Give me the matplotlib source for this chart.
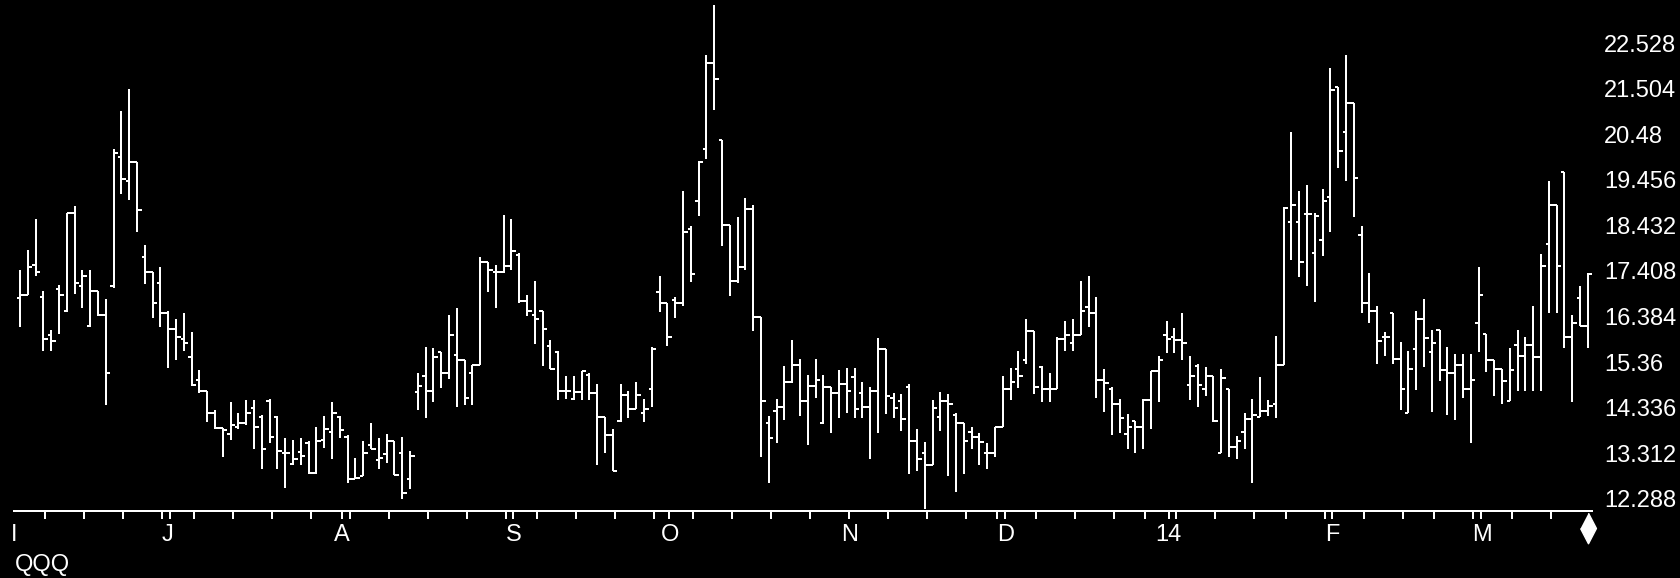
import matplotlib
matplotlib.use("Agg")
import matplotlib.pyplot as plt
import matplotlib.transforms as mtransforms
import numpy as np

plt.rcParams["font.family"] = ["Liberation Sans Narrow", "DejaVu Sans Condensed", "Liberation Sans"]

# daily OHLC bars
opens = [
    16.81, 16.86, 17.54, 16.82, 15.96, 17.00, 16.50, 18.71, 17.08, 16.17,
    16.96, 16.42, 17.08, 19.96, 19.42, 19.86, 17.73, 17.39, 17.13, 16.46,
    16.11, 15.87, 15.48, 14.96, 14.72, 14.23, 13.89, 13.75, 13.91, 14.00,
    14.33, 14.12, 14.48, 14.12, 13.31, 13.08, 13.35, 13.54, 12.87, 13.62,
    13.79, 14.12, 13.68, 12.73, 12.81, 13.51, 13.16, 13.29, 13.60, 13.31,
    12.73, 14.68, 15.06, 14.71, 15.60, 15.11, 15.52, 15.40, 15.11, 15.29,
    17.61, 17.39, 17.39, 17.53, 17.77, 16.73, 16.43, 16.50, 15.73, 15.58,
    14.71, 14.54, 14.68, 15.08, 14.66, 14.12, 13.73, 14.04, 14.62, 14.31,
    14.23, 14.75, 16.94, 16.69, 16.75, 16.68, 18.35, 18.98, 20.14, 22.09,
    20.36, 18.44, 17.18, 17.50, 18.79, 16.37, 14.00, 14.27, 14.36, 14.92,
    15.29, 14.48, 14.83, 14.00, 14.81, 14.66, 14.86, 15.02, 14.66, 14.36,
    14.71, 15.65, 14.56, 14.48, 14.81, 13.60, 13.33, 13.06, 14.12, 14.48,
    14.18, 14.00, 13.79, 13.68, 13.31, 13.31, 13.90, 14.75, 15.21, 15.40,
    16.07, 15.25, 14.75, 14.75, 15.89, 15.79, 15.97, 16.60, 16.47, 14.96,
    14.76, 14.41, 13.75, 14.04, 13.90, 14.50, 15.17, 15.97, 15.93, 15.85,
    14.85, 15.27, 14.76, 15.06, 13.31, 14.76, 13.46, 13.79, 14.08, 14.12,
    14.27, 14.43, 15.29, 18.50, 18.50, 18.69, 17.81, 18.11, 19.08, 21.53,
    20.54, 21.17, 18.21, 16.69, 16.50, 15.92, 16.46, 15.43, 14.23, 15.65,
    16.33, 15.60, 16.08, 15.19, 15.12, 15.29, 14.75, 16.23, 16.00, 15.42,
    15.21, 14.48, 15.75, 15.50, 15.75, 15.48, 18.02, 18.90, 19.63, 15.93,
    16.81, 16.17,
]
highs = [
    17.42, 17.88, 18.58, 16.96, 16.08, 17.10, 18.71, 18.86, 17.42, 17.42,
    16.96, 16.77, 20.15, 21.00, 21.49, 19.86, 18.00, 17.39, 17.50, 16.52,
    16.33, 16.47, 16.04, 15.18, 14.72, 14.29, 13.89, 14.46, 14.23, 14.50,
    14.50, 14.18, 14.54, 14.15, 13.66, 13.62, 13.66, 13.60, 13.91, 14.15,
    14.46, 14.15, 13.73, 13.21, 13.60, 14.00, 13.65, 13.75, 13.60, 13.68,
    13.37, 15.12, 15.71, 15.67, 15.60, 16.43, 16.57, 15.40, 15.29, 17.73,
    17.61, 17.54, 18.67, 18.58, 17.82, 16.87, 17.19, 16.52, 15.85, 15.61,
    15.04, 15.04, 15.17, 15.12, 14.87, 14.12, 13.87, 14.87, 14.72, 14.92,
    14.54, 15.71, 17.29, 16.69, 16.83, 19.21, 18.42, 19.88, 22.25, 23.38,
    20.36, 18.44, 18.61, 19.04, 18.90, 16.37, 14.15, 14.54, 15.27, 15.85,
    15.44, 15.08, 15.44, 15.08, 14.81, 15.18, 15.22, 15.22, 14.92, 14.81,
    15.90, 15.65, 14.66, 14.65, 14.87, 13.86, 13.56, 14.50, 14.68, 14.65,
    14.21, 14.00, 13.91, 13.76, 13.54, 13.90, 15.04, 15.22, 15.62, 16.33,
    16.07, 15.27, 15.12, 15.93, 16.29, 16.33, 17.19, 17.29, 16.83, 15.21,
    14.81, 14.54, 14.19, 14.04, 14.54, 15.17, 15.50, 16.29, 16.12, 16.47,
    15.50, 15.31, 15.25, 15.06, 15.21, 14.76, 13.71, 14.23, 14.54, 15.02,
    14.50, 15.94, 18.85, 20.52, 19.21, 19.34, 18.71, 19.25, 21.96, 21.53,
    22.25, 21.17, 18.42, 17.36, 16.62, 16.04, 16.47, 15.81, 15.62, 16.52,
    16.79, 16.08, 16.08, 15.71, 15.54, 15.54, 15.54, 17.50, 16.00, 15.42,
    15.21, 15.67, 16.08, 15.93, 16.62, 17.79, 19.43, 18.90, 19.63, 16.43,
    17.06, 17.37,
]
lows = [
    16.14, 16.86, 17.29, 15.62, 15.62, 16.00, 16.48, 16.89, 16.58, 16.14,
    16.40, 14.39, 17.03, 19.13, 19.00, 18.28, 17.11, 16.35, 16.14, 15.22,
    15.42, 15.62, 14.83, 14.66, 14.02, 13.87, 13.23, 13.62, 13.87, 13.96,
    13.40, 12.96, 13.54, 12.96, 12.54, 13.04, 13.04, 12.86, 12.86, 13.44,
    13.19, 13.66, 12.65, 12.73, 12.81, 13.40, 12.96, 13.10, 12.83, 12.29,
    12.51, 14.29, 14.10, 14.46, 14.79, 14.98, 14.35, 14.39, 14.39, 15.29,
    16.93, 16.58, 17.37, 17.42, 16.68, 16.40, 15.77, 15.27, 15.21, 14.52,
    14.54, 14.52, 14.52, 14.52, 13.04, 13.31, 12.91, 14.02, 14.10, 14.31,
    14.01, 14.35, 16.48, 15.72, 16.35, 16.62, 17.17, 18.64, 19.93, 21.02,
    17.96, 16.85, 17.13, 17.42, 16.06, 13.23, 12.65, 13.54, 14.06, 14.90,
    14.16, 13.50, 14.56, 13.98, 13.76, 14.11, 14.21, 14.11, 14.11, 13.18,
    13.76, 14.19, 14.11, 13.81, 12.86, 12.91, 12.06, 13.06, 13.81, 12.81,
    12.45, 12.86, 13.40, 13.04, 12.96, 13.23, 13.90, 14.52, 14.79, 15.33,
    14.65, 14.46, 14.46, 14.75, 15.62, 15.62, 15.97, 16.14, 14.56, 14.25,
    13.73, 13.76, 13.40, 13.33, 13.40, 13.87, 14.46, 15.56, 15.56, 15.42,
    14.50, 14.35, 14.60, 14.02, 13.31, 13.23, 13.18, 13.40, 12.65, 14.12,
    14.16, 14.11, 15.29, 17.65, 17.27, 17.07, 16.71, 17.75, 18.28, 19.71,
    19.44, 18.63, 16.47, 16.25, 15.31, 15.51, 15.31, 14.29, 14.21, 14.73,
    15.25, 14.25, 14.93, 14.18, 14.06, 14.56, 13.54, 15.58, 15.14, 14.60,
    14.41, 14.48, 14.71, 14.71, 14.71, 14.71, 16.47, 16.47, 15.67, 14.46,
    16.17, 15.67,
]
closes = [
    16.86, 17.50, 17.39, 15.89, 15.83, 16.86, 18.71, 17.13, 17.29, 16.96,
    16.43, 15.11, 20.06, 19.48, 19.86, 18.78, 17.39, 16.69, 16.46, 16.11,
    15.92, 15.79, 14.85, 14.72, 14.23, 13.89, 13.83, 13.94, 14.00, 14.23,
    13.90, 13.41, 13.68, 13.37, 13.31, 13.19, 13.26, 12.87, 13.60, 13.85,
    14.23, 13.83, 12.73, 12.77, 13.31, 13.40, 13.21, 13.60, 12.83, 12.43,
    13.26, 14.83, 14.71, 15.48, 15.11, 15.97, 15.40, 14.56, 15.29, 17.61,
    17.43, 17.39, 17.53, 17.85, 16.73, 16.50, 16.33, 16.11, 15.21, 14.71,
    14.71, 14.68, 15.17, 14.66, 14.12, 13.73, 12.91, 14.62, 14.31, 14.62,
    14.31, 15.65, 16.69, 15.93, 16.68, 18.29, 17.33, 19.86, 22.09, 21.71,
    18.44, 17.18, 17.50, 18.79, 16.37, 14.48, 13.65, 14.36, 14.92, 15.29,
    14.48, 14.83, 14.96, 14.81, 14.66, 14.86, 14.71, 14.31, 14.36, 14.71,
    15.65, 14.60, 14.33, 14.08, 13.60, 13.19, 13.06, 14.33, 14.48, 14.43,
    14.00, 13.60, 13.68, 13.56, 13.31, 13.90, 14.75, 14.92, 15.06, 16.07,
    14.81, 14.75, 14.75, 15.89, 15.97, 15.97, 16.52, 16.47, 14.96, 14.90,
    14.41, 14.10, 13.90, 13.90, 14.50, 15.17, 15.40, 15.89, 15.85, 15.79,
    15.06, 14.85, 15.06, 14.04, 15.00, 13.46, 13.60, 14.08, 14.18, 14.27,
    14.37, 15.29, 18.83, 18.89, 17.62, 18.69, 18.65, 18.98, 21.48, 20.10,
    21.17, 19.50, 16.69, 16.50, 15.83, 15.92, 15.43, 14.75, 15.21, 16.33,
    15.90, 15.79, 15.19, 15.12, 15.29, 14.75, 14.96, 16.86, 15.42, 15.21,
    14.93, 15.19, 15.50, 15.75, 15.48, 17.52, 18.90, 17.52, 15.93, 16.25,
    16.17, 17.35,
]

# weekly ticks (bar index) and month labels along the time axis
week_ticks = [-1, 3, 8, 13, 18, 19, 22, 27, 32, 37, 41, 42, 47, 52, 57, 62, 63, 66,
              71, 76, 81, 83, 86, 91, 96, 101, 106, 111, 116, 121, 125, 126, 130,
              135, 140, 144, 147, 148, 153, 158, 162, 167, 168, 172, 177, 181, 186,
              187, 191, 196]
month_pos = [-0.75, 18.9, 41.3, 63.3, 83.3, 106.4, 126.3, 147.2, 168.2, 187.4]
month_labels = ["I", "J", "A", "S", "O", "N", "D", "14", "F", "M"]

price_ticks = [22.528, 21.504, 20.48, 19.456, 18.432, 17.408, 16.384, 15.36,
               14.336, 13.312, 12.288]
price_labels = ["22.528", "21.504", "20.48", "19.456", "18.432", "17.408",
                "16.384", "15.36", "14.336", "13.312", "12.288"]

fg = "white"
lw = 1.44  # 2 px at 100 dpi

fig = plt.figure(figsize=(16.81, 5.78), dpi=100, facecolor="black")
ax = fig.add_axes([14 / 1681, 67 / 578, 1578 / 1681, 511 / 578], facecolor="black")

x = np.arange(len(closes))
ax.vlines(x, lows, highs, color=fg, lw=lw)
ax.hlines(opens, x - 0.4, x, color=fg, lw=lw)
ax.hlines(closes, x, x + 0.6, color=fg, lw=lw)

ax.set_ylim(12.018, 23.494)

for side in ("top", "left", "right"):
    ax.spines[side].set_visible(False)
ax.spines["bottom"].set_color(fg)
ax.spines["bottom"].set_linewidth(lw)

ax.set_xticks(np.array(week_ticks) + 0.25, minor=True)
ax.set_xticks(month_pos, labels=month_labels)
ax.set_xlim(-0.77, 201.54)
ax.tick_params(axis="x", which="minor", length=5.8, width=lw, color=fg, direction="out")
ax.tick_params(axis="x", which="major", length=0, pad=9.5, labelcolor=fg, labelsize=17)

ax.yaxis.tick_right()
ax.set_yticks(price_ticks, labels=price_labels)
ax.tick_params(axis="y", length=0, pad=8.6, labelcolor=fg, labelsize=17)

# end-of-data marker under the last bar
trans = mtransforms.blended_transform_factory(ax.transData, ax.transAxes)
diamond = [(0, 1), (0.52, 0), (0, -1), (-0.52, 0)]
ax.plot([len(closes) - 1], [-0.034], marker=diamond, ms=22, color=fg, mec=fg,
        transform=trans, clip_on=False)

fig.text(15 / 1681, 1 - 554 / 578, "QQQ", color=fg, fontsize=17, ha="left", va="top")

fig.savefig("out.png", dpi=100, facecolor="black")
